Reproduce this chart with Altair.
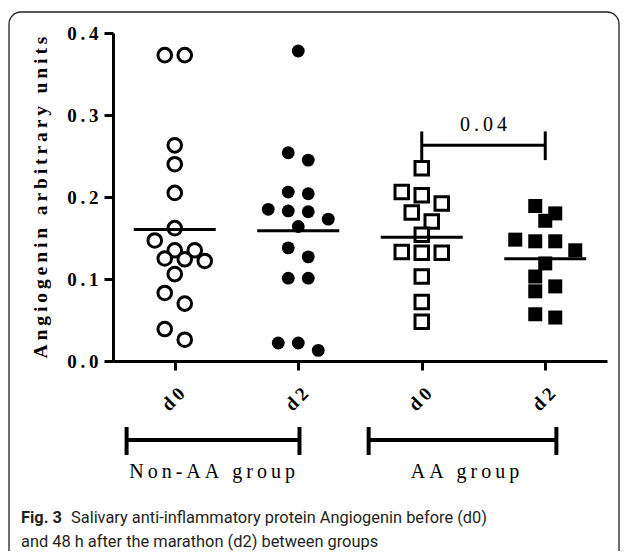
import altair as alt
import pandas as pd

# ---------------- data ----------------
categories = ["Non-AA d0", "Non-AA d2", "AA d0", "AA d2"]
day_labels = ["d0", "d2", "d0", "d2"]

non_aa_d0 = [0.373, 0.373, 0.263, 0.240, 0.205, 0.162, 0.147, 0.135, 0.135,
             0.125, 0.124, 0.122, 0.106, 0.083, 0.070, 0.039, 0.026]
non_aa_d2 = [0.378, 0.254, 0.245, 0.206, 0.204, 0.185, 0.183, 0.182, 0.173,
             0.164, 0.138, 0.127, 0.101, 0.101, 0.022, 0.022, 0.013]
aa_d0 = [0.235, 0.206, 0.202, 0.192, 0.181, 0.170, 0.154, 0.133, 0.132,
         0.132, 0.103, 0.072, 0.048]
aa_d2 = [0.189, 0.180, 0.171, 0.148, 0.146, 0.146, 0.135, 0.119, 0.103,
         0.091, 0.085, 0.057, 0.053]
series = [non_aa_d0, non_aa_d2, aa_d0, aa_d2]

y_ticks = [0.0, 0.1, 0.2, 0.3, 0.4]
y_title = "Angiogenin arbitrary units"

# significance annotation
sig_pair = [2, 3]
sig_text = "0.04"

# group annotation
group_names = ["Non-AA group", "AA group"]
group_members = [[0, 1], [2, 3]]

caption_bold = "Fig. 3"
caption_line1 = "Salivary anti-inflammatory protein Angiogenin before (d0)"
caption_line2 = "and 48 h after the marathon (d2) between groups"

# ---------------- layout helpers ----------------
W, H = 494, 328
PX_PER_CAT = W / 4.0
PX_PER_UNIT = H / 0.4
THIN = "\u2009"


def spaced(s):
    return THIN.join(s)


def swarm(vals, row_px=12.0, step=20.0, min_d=12.0):
    """Row-based beeswarm: returns horizontal offsets in pixels."""
    order = sorted(range(len(vals)), key=lambda i: -vals[i])
    rows = []
    for i in order:
        if rows and (vals[rows[-1][0]] - vals[i]) * PX_PER_UNIT <= row_px:
            rows[-1].append(i)
        else:
            rows.append([i])
    placed = []
    offs = [0.0] * len(vals)
    for r in rows:
        n = len(r)
        base = [(k - (n - 1) / 2.0) * step for k in range(n)]
        best = 0
        for s in [0, 10, -10, 20, -20, 30, -30]:
            ok = all(((b + s - px) ** 2 + ((vals[i] - py) * PX_PER_UNIT) ** 2) ** 0.5 >= min_d
                     for b, i in zip(base, r) for px, py in placed)
            if ok:
                best = s
                break
        for b, i in zip(base, r):
            offs[i] = b + best
            placed.append((b + best, vals[i]))
    return offs


rows = []
for ci, vals in enumerate(series):
    offs = swarm(vals)
    for v, o in zip(vals, offs):
        rows.append({"cat": categories[ci], "idx": ci, "value": v,
                     "xpos": ci + o / PX_PER_CAT})
df = pd.DataFrame(rows)

# ---------------- axes ----------------
SERIF = "Liberation Serif"
x_scale = alt.Scale(domain=[-0.5, 3.5], nice=False, zero=False)
y_scale = alt.Scale(domain=[0, 0.4], nice=False, zero=False)

lab_expr = " : ".join(
    [f"datum.value == {i} ? '{spaced(day_labels[i])}'" for i in range(3)]
) + f" : '{spaced(day_labels[3])}'"

x_axis = alt.Axis(values=[0, 1, 2, 3], labelExpr=lab_expr, title=None, grid=False,
                  labelAngle=-45, labelFont=SERIF, labelFontSize=19, labelFontWeight="bold",
                  labelColor="black", labelPadding=14, tickSize=9, tickWidth=3,
                  tickColor="black", domainWidth=3, domainColor="black")
y_axis = alt.Axis(values=y_ticks, labelExpr=f"replace(format(datum.value, '.1f'), '.', '{THIN}.{THIN}')",
                  title=spaced(y_title), grid=False,
                  labelFont=SERIF, labelFontSize=19, labelFontWeight="bold", labelColor="black",
                  labelPadding=6, tickSize=9, tickWidth=3, tickColor="black",
                  domainWidth=3, domainColor="black",
                  titleFont=SERIF, titleFontSize=19.5, titleFontWeight="bold", titleColor="black",
                  titlePadding=16)


def X(field):
    return alt.X(field, type="quantitative", scale=x_scale, axis=x_axis)


def Y(field):
    return alt.Y(field, type="quantitative", scale=y_scale, axis=y_axis)


layers = []

# outer rounded frame
one = pd.DataFrame({"a": [0]})
layers.append(alt.Chart(one).mark_rect(fill="white", fillOpacity=0, stroke="#222",
                                       strokeWidth=1.3, cornerRadius=12).encode(
    x=alt.value(-104), x2=alt.value(506), y=alt.value(-21), y2=alt.value(600)))

# points
styles = [("circle", False, 185, 3), ("circle", True, 165, 0),
          ("square", False, 182, 3), ("square", True, 196, 0)]
for ci, (shape, filled, size, sw) in enumerate(styles):
    mk = alt.Chart(df).transform_filter(alt.datum.idx == ci).mark_point(
        shape=shape, filled=True, size=size, opacity=1,
        fill="black" if filled else "white",
        stroke="black", strokeWidth=sw, strokeOpacity=1 if sw else 0)
    layers.append(mk.encode(x=X("xpos"), y=Y("value")))

# mean lines
layers.append(alt.Chart(df).transform_aggregate(
    mean="mean(value)", groupby=["idx"]
).transform_calculate(
    xa="datum.idx - 0.332", xb="datum.idx + 0.332"
).mark_rule(color="black", strokeWidth=3).encode(
    x=X("xa"), x2="xb:Q", y=Y("mean")))

# significance bracket
top_val = max(max(series[sig_pair[0]]), max(series[sig_pair[1]]))
sig_y = top_val + 0.028
sig_df = pd.DataFrame({"x1": [sig_pair[0]], "x2": [sig_pair[1]], "y": [sig_y],
                       "xm": [(sig_pair[0] + sig_pair[1]) / 2], "ty": [sig_y + 0.025],
                       "t": [spaced(sig_text)]})
layers.append(alt.Chart(sig_df).mark_rule(color="black", strokeWidth=3).encode(
    x=X("x1"), x2="x2:Q", y=Y("y")))
sig_ticks = pd.DataFrame({"x": sig_pair, "ylo": [sig_y - 0.018] * 2, "yhi": [sig_y + 0.017] * 2})
layers.append(alt.Chart(sig_ticks).mark_rule(color="black", strokeWidth=3).encode(
    x=X("x"), y=Y("ylo"), y2="yhi:Q"))
layers.append(alt.Chart(sig_df).mark_text(font=SERIF, fontSize=20, color="black",
                                          baseline="middle", align="center").encode(
    x=X("xm"), y=Y("ty"), text="t:N"))

# group brackets below the axis
gdf = pd.DataFrame({
    "name": [spaced(n) for n in group_names],
    "x1": [group_members[0][0] - 0.39, group_members[1][0] - 0.43],
    "x2": [group_members[0][-1] + 0.01, group_members[1][-1] + 0.09],
    "xm": [0.302, 2.35],
})
gdf["y"] = -0.0963
gdf["ty"] = -0.1354
layers.append(alt.Chart(gdf).mark_rule(color="black", strokeWidth=4).encode(
    x=X("x1"), x2="x2:Q", y=Y("y")))
gt = pd.DataFrame({"x": list(gdf["x1"]) + list(gdf["x2"]),
                   "ylo": [-0.1146] * 4, "yhi": [-0.0805] * 4})
layers.append(alt.Chart(gt).mark_rule(color="black", strokeWidth=4).encode(
    x=X("x"), y=Y("ylo"), y2="yhi:Q"))
layers.append(alt.Chart(gdf).mark_text(font=SERIF, fontSize=20, color="black",
                                       baseline="middle", align="center").encode(
    x=X("xm"), y=Y("ty"), text="name:N"))

# caption
CAP_FONT = "Roboto"
CAP_SIZE = 16.4
layers.append(alt.Chart(one).mark_text(font=CAP_FONT, fontSize=CAP_SIZE, fontWeight="bold",
                                       color="#231f20", align="left", baseline="alphabetic",
                                       text=caption_bold).encode(
    x=alt.value(-92), y=alt.value(490)))
layers.append(alt.Chart(one).mark_text(font=CAP_FONT, fontSize=CAP_SIZE, color="#231f20",
                                       align="left", baseline="alphabetic",
                                       text=caption_line1).encode(
    x=alt.value(-42), y=alt.value(490)))
layers.append(alt.Chart(one).mark_text(font=CAP_FONT, fontSize=CAP_SIZE, color="#231f20",
                                       align="left", baseline="alphabetic",
                                       text=caption_line2).encode(
    x=alt.value(-92), y=alt.value(514)))

chart = alt.layer(*layers).properties(
    width=W, height=H,
    autosize=alt.AutoSizeParams(type="none"),
    padding={"left": 105, "top": 25, "right": 14, "bottom": 190},
).configure_view(stroke=None)

chart.save("out.html", embed_options={"renderer": "svg", "actions": False})
